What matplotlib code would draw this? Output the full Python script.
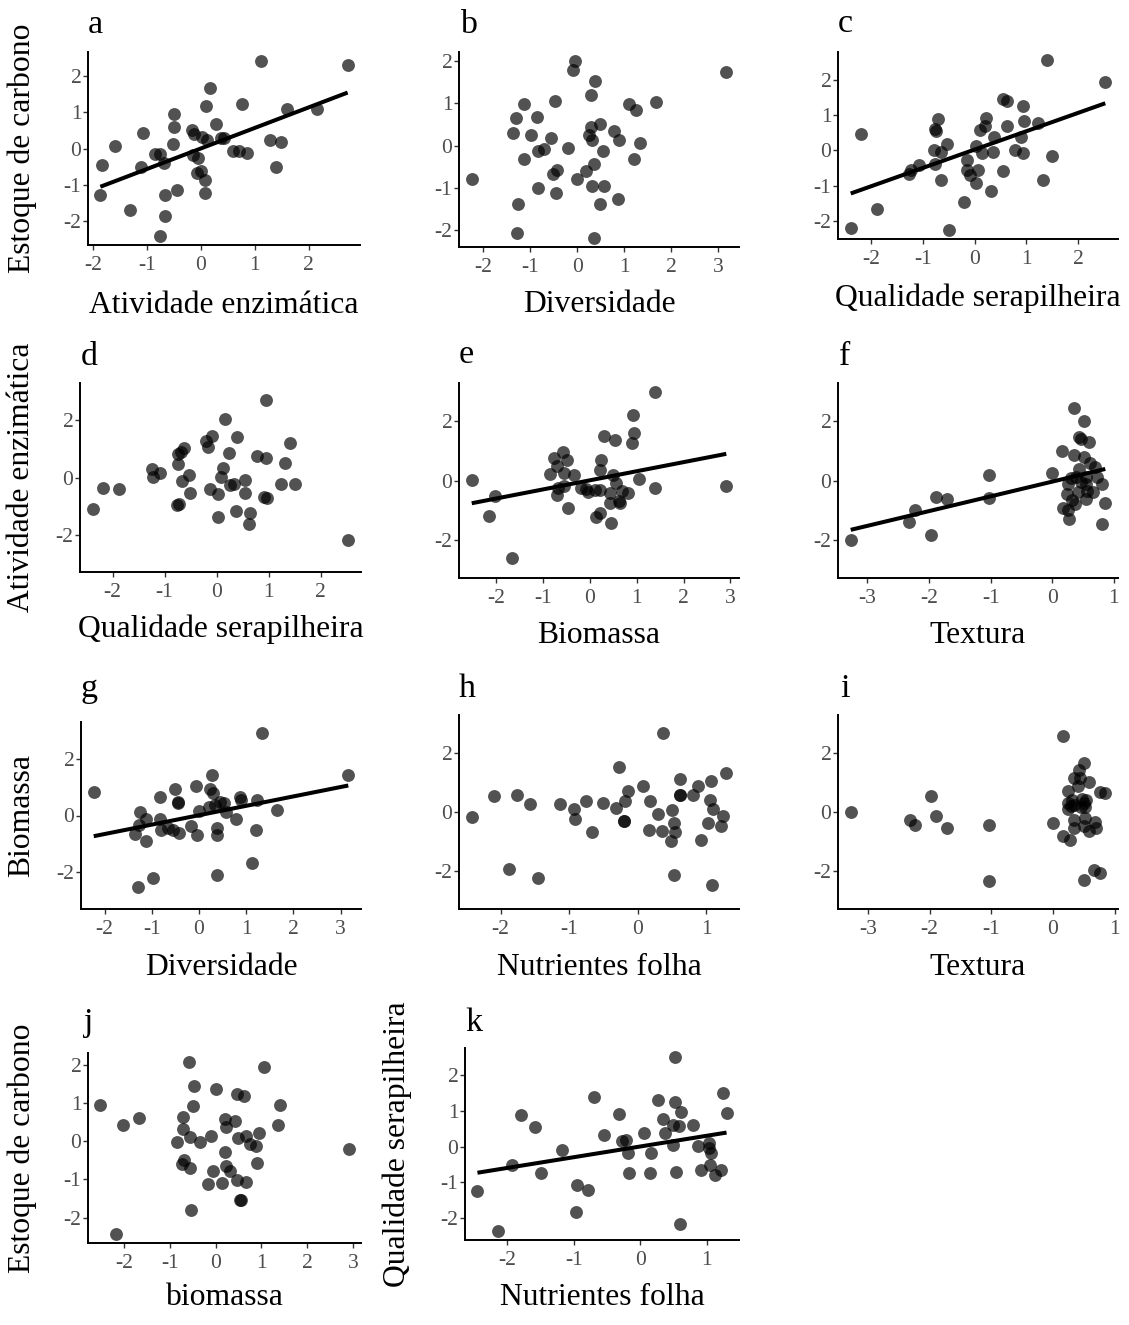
import numpy as np
import matplotlib
matplotlib.use("Agg")
import matplotlib.pyplot as plt
from matplotlib.ticker import MultipleLocator, FuncFormatter
from matplotlib.transforms import blended_transform_factory as btf

plt.rcParams['font.family'] = ['Liberation Serif', 'DejaVu Serif']
plt.rcParams['axes.unicode_minus'] = False

# ---------------- data ----------------
a_x = [-1.83, -1.86, -1.59, -1.31, -1.07, -1.10, -0.84, -0.76, -0.69, -0.67, -0.66, -0.76,
       -0.49, -0.50, -0.51, -0.44, -0.17, -0.13, -0.15, -0.06, 0.02, 0.12, -0.07, 0.00,
       0.07, 0.07, 0.09, 0.17, 0.29, 0.37, 0.43, 0.59, 0.70, 0.86, 0.76, 1.12, 1.28, 1.48,
       1.39, 1.60, 2.15, 2.72]
a_y = [-0.45, -1.29, 0.07, -1.69, 0.42, -0.50, -0.14, -0.14, -0.41, -1.28, -1.86, -2.41,
       0.96, 0.59, 0.12, -1.14, 0.50, 0.39, -0.18, -0.27, 0.32, 0.23, -0.68, -0.63,
       -0.86, -1.23, 1.16, 1.67, 0.66, 0.30, 0.30, -0.06, -0.06, -0.12, 1.22, 2.41, 0.24, 0.18,
       -0.50, 1.08, 1.08, 2.30]
a_fit = (0.565, 0.0)

b_x = [-2.25, -1.38, -1.30, -1.13, -1.13, -1.26, -1.28, -0.99, -0.86, -0.83, -0.72, -0.83,
       -0.57, -0.48, -0.51, -0.43, -0.45, -0.19, -0.09, -0.05, 0.00, 0.19, 0.29, 0.28,
       0.25, 0.32, 0.48, 0.37, 0.35, 0.32, 0.55, 0.57, 0.48, 0.35, 0.78, 0.89, 1.10, 1.24,
       1.21, 1.33, 0.86, 1.68, 3.17]
b_y = [-0.80, 0.29, 0.66, 0.98, -0.32, -1.39, -2.07, 0.25, 0.67, -0.13, -0.07, -1.01,
       0.19, 1.05, -0.68, -0.57, -1.12, -0.06, 1.80, 2.01, -0.78, -0.60, 1.21, 0.44,
       0.26, 0.14, 0.52, 1.54, -0.44, -0.95, -0.13, -0.95, -1.38, -2.19, 0.35, 0.13, 0.98, 0.84,
       -0.32, 0.06, -1.26, 1.04, 1.75]

c_x = [-2.39, -2.20, -1.88, -1.27, -1.22, -1.07, -0.79, -0.76, -0.77, -0.74, -0.71, -0.64,
       -0.64, -0.53, -0.50, -0.20, -0.15, -0.15, -0.08, 0.03, 0.06, 0.03, 0.14, 0.11,
       0.20, 0.22, 0.36, 0.32, 0.38, 0.54, 0.54, 0.63, 0.62, 0.78, 0.90, 0.94, 0.96, 0.94,
       1.22, 1.32, 1.50, 1.40, 2.52]
c_y = [-2.19, 0.47, -1.67, -0.66, -0.56, -0.42, 0.00, -0.38, 0.61, 0.54, 0.89, -0.05,
       -0.83, 0.17, -2.27, -1.46, -0.28, -0.56, -0.70, -0.92, -0.56, 0.11, -0.08, 0.56,
       0.68, 0.92, -0.05, -1.15, 0.38, -0.58, 1.46, 1.38, 0.69, 0.02, 0.38, -0.08, 0.83, 1.25,
       0.77, -0.83, -0.17, 2.54, 1.92]
c_fit = (0.52, 0.02)

d_x = [-2.38, -2.18, -1.87, -1.25, -1.23, -1.09, -0.75, -0.74, -0.69, -0.62, -0.66, -0.53,
       -0.52, -0.77, -0.72, -0.21, -0.16, -0.08, 0.16, -0.13, 0.03, 0.02, 0.08, 0.13,
       0.23, 0.26, 0.34, 0.39, 0.37, 0.55, 0.55, 0.64, 0.63, 0.78, 0.94, 0.91, 0.97, 0.95,
       1.24, 1.32, 1.42, 1.51, 2.53]
d_y = [-1.09, -0.35, -0.39, 0.28, 0.02, 0.14, 0.82, 0.47, 0.90, 1.02, -0.12, 0.08,
       -0.54, -0.97, -0.91, 1.26, 1.08, 1.45, 2.04, -0.41, -0.59, -1.38, 0.02, 0.32,
       0.87, -0.27, -0.23, 1.43, -1.17, -0.09, -0.54, -1.24, -1.64, 0.75, 0.67, -0.68, -0.70, 2.69,
       -0.21, 0.49, 1.20, -0.21, -2.18]

e_x = [-2.52, -2.16, -2.03, -1.67, -0.84, -0.77, -0.70, -0.70, -0.67, -0.57, -0.55, -0.48,
       -0.55, -0.46, -0.34, -0.18, -0.09, -0.04, 0.12, 0.13, 0.21, 0.24, 0.21, 0.21,
       0.30, 0.44, 0.44, 0.46, 0.49, 0.53, 0.55, 0.62, 0.65, 0.69, 0.82, 0.89, 0.94, 0.91,
       1.04, 1.38, 1.40, 2.91]
e_y = [0.02, -1.20, -0.51, -2.62, 0.23, 0.76, 0.50, -0.49, -0.26, 0.95, 0.25, 0.70,
       -0.20, -0.94, 0.19, -0.26, -0.29, -0.40, -0.32, -1.25, -1.11, 0.70, 0.34, -0.32,
       1.50, -0.41, -0.77, -1.43, 0.19, 1.36, -0.09, -0.71, -0.77, -0.37, -0.41, 1.27, 1.61, 2.23,
       0.06, -0.26, 2.99, -0.20]
e_fit = (0.308, 0.006)

f_x = [-3.27, -2.32, -2.23, -1.96, -1.89, -1.70, -1.03, -1.02, 0.00, 0.16, 0.17, 0.26,
       0.27, 0.24, 0.26, 0.31, 0.32, 0.35, 0.35, 0.37, 0.41, 0.43, 0.46, 0.44,
       0.47, 0.51, 0.51, 0.54, 0.54, 0.54, 0.59, 0.62, 0.66, 0.70, 0.73, 0.80, 0.80, 0.86,
       0.57, 0.39]
f_y = [-2.02, -1.40, -1.01, -1.85, -0.56, -0.62, 0.20, -0.58, 0.25, 0.99, -0.92, -0.99,
       -1.29, -0.47, -0.13, 0.09, -0.65, 2.45, 0.88, -0.79, -0.39, 1.48, 1.40, 0.39,
       -0.06, 2.00, 0.79, 0.11, -0.13, -0.62, 1.29, 0.58, -0.39, 0.45, 0.13, -0.11, -1.48, -0.76,
       -0.34, 0.11]
f_fit = (0.499, -0.038)

g_x = [-2.23, -1.24, -1.27, -1.36, -1.29, -1.12, -1.12, -0.98, -0.82, -0.82, -0.80, -0.66,
       -0.50, -0.45, -0.45, -0.43, -0.55, -0.18, -0.07, -0.04, 0.00, 0.28, 0.24, 0.30,
       0.21, 0.33, 0.37, 0.37, 0.37, 0.44, 0.52, 0.57, 0.78, 0.86, 0.88, 1.23, 1.20, 1.12,
       1.34, 1.65, 3.16]
g_y = [0.84, 0.14, -0.33, -0.64, -2.54, -0.13, -0.89, -2.22, 0.66, -0.13, -0.52, -0.44,
       0.92, 0.49, 0.45, -0.62, -0.50, -0.38, 1.04, -0.68, 0.17, 1.42, 0.92, 0.78,
       0.31, 0.37, -0.44, -0.68, -2.11, 0.49, 0.45, 0.14, -0.13, 0.64, 0.55, 0.55, -0.52, -1.66,
       2.90, 0.20, 1.42]
g_fit = (0.332, 0.01)

h_x = [-2.42, -2.10, -1.88, -1.76, -1.57, -1.46, -1.14, -0.93, -0.92, -0.76, -0.67, -0.51,
       -0.31, -0.27, -0.19, -0.20, -0.14, 0.07, 0.16, 0.18, 0.29, 0.35, 0.37, 0.50,
       0.49, 0.53, 0.54, 0.53, 0.61, 0.62, 0.81, 0.88, 0.92, 1.02, 1.05, 1.07, 1.10, 1.08,
       1.24, 1.22, 1.29, 0.62, -0.20]
h_y = [-0.17, 0.55, -1.95, 0.59, 0.28, -2.23, 0.28, 0.11, -0.24, 0.36, -0.68, 0.30,
       0.14, 1.54, 0.36, -0.29, 0.73, 0.89, -0.62, 0.39, -0.06, -0.65, 2.69, 0.06,
       -0.97, -0.37, -0.68, -2.15, 1.12, 0.59, 0.59, 0.89, -0.94, -0.39, 0.42, 1.07, 0.10, -2.48,
       -0.12, -0.48, 1.34, 0.57, -0.31]

i_x = [-3.28, -2.32, -2.24, -1.98, -1.90, -1.72, -1.04, -1.04, 0.00, 0.16, 0.16, 0.27,
       0.25, 0.25, 0.25, 0.31, 0.34, 0.34, 0.34, 0.34, 0.41, 0.42, 0.44, 0.45,
       0.48, 0.50, 0.52, 0.53, 0.52, 0.50, 0.50, 0.59, 0.59, 0.69, 0.70, 0.66, 0.77, 0.77,
       0.85, 0.30, 0.50]
i_y = [0.01, -0.27, -0.44, 0.54, -0.15, -0.53, -0.44, -2.35, -0.36, 2.60, -0.83, -0.94,
       0.72, 0.29, 0.09, 0.40, 0.24, -0.27, -0.55, 1.17, 0.88, 1.42, 1.17, 0.18,
       0.43, 1.66, 0.18, 0.40, -0.21, -0.49, -2.31, 1.03, -0.66, -0.33, -0.55, -1.96, -2.07, 0.69,
       0.65, 0.20, 0.30]

j_x = [-2.51, -2.01, -1.67, -2.17, -0.83, -0.70, -0.70, -0.74, -0.68, -0.58, -0.47, -0.49,
       -0.56, -0.56, -0.54, -0.34, -0.09, -0.05, -0.16, 0.00, 0.14, 0.20, 0.22, 0.20,
       0.23, 0.31, 0.43, 0.46, 0.49, 0.46, 0.54, 0.62, 0.67, 0.67, 0.76, 0.89, 0.94, 0.91,
       1.05, 1.36, 1.40, 2.90, 0.55]
j_y = [0.94, 0.44, 0.62, -2.44, -0.03, 0.65, 0.33, -0.60, -0.49, 2.09, 1.45, 0.92,
       0.11, -0.69, -1.79, -0.03, 0.15, -0.79, -1.13, 1.36, -1.09, 0.59, 0.37, -0.29,
       -0.66, -0.78, 0.53, 1.23, 0.09, -1.02, -1.55, 1.18, 0.15, -1.06, -0.07, -0.11, 0.21, -0.56,
       1.94, 0.42, 0.94, -0.20, -1.53]

k_x = [-2.45, -2.14, -1.93, -1.80, -1.58, -1.50, -1.17, -0.95, -0.96, -0.79, -0.69, -0.54,
       -0.32, -0.27, -0.22, -0.19, -0.17, 0.06, 0.17, 0.15, 0.27, 0.34, 0.38, 0.49,
       0.49, 0.53, 0.53, 0.54, 0.59, 0.62, 0.60, 0.80, 0.87, 0.92, 1.03, 1.04, 1.07, 1.05,
       1.12, 1.22, 1.25, 1.30]
k_y = [-1.24, -2.37, -0.50, 0.89, 0.55, -0.73, -0.09, -1.08, -1.83, -1.22, 1.39, 0.32,
       0.92, 0.17, 0.20, -0.17, -0.73, 0.39, -0.18, -0.73, 1.30, 0.78, 0.37, 0.62,
       0.05, 1.24, 2.52, -0.72, 0.57, 0.96, -2.18, 0.62, 0.03, -0.64, 0.11, -0.03, -0.17, -0.50,
       -0.78, -0.64, 1.49, 0.94]
k_fit = (0.30, 0.005)

# ---------------- layout ----------------
W, H = 1129, 1325
fig = plt.figure(figsize=(W / 100, H / 100), dpi=100)

# letter, x, y, fit, xlabel, ylabel, fixed ylim?, y tick step,
# box (left, right, top, bottom px), letter pos (x, baseline), xlabel baseline, ylabel x
panels = [
    ("a", a_x, a_y, a_fit, "Atividade enzimática", "Estoque de carbono", False, 1,
     (88, 360, 52, 245), (88, 33), 313, 22),
    ("b", b_x, b_y, None, "Diversidade", None, False, 1,
     (459, 739, 52, 247), (460, 33), 312, None),
    ("c", c_x, c_y, c_fit, "Qualidade serapilheira", None, False, 1,
     (838, 1118, 52, 239), (838, 32), 306, None),
    ("d", d_x, d_y, None, "Qualidade serapilheira", "Atividade enzimática", True, 2,
     (80, 361, 383, 572), (81, 365), 637, 22),
    ("e", e_x, e_y, e_fit, "Biomassa", None, True, 2,
     (459, 739, 383, 578), (459, 363), 643, None),
    ("f", f_x, f_y, f_fit, "Textura", None, True, 2,
     (838, 1118, 383, 578), (839, 365), 643, None),
    ("g", g_x, g_y, g_fit, "Diversidade", "Biomassa", True, 2,
     (81, 361, 722, 909), (81, 697), 975, 22),
    ("h", h_x, h_y, None, "Nutrientes folha", None, True, 2,
     (459, 739, 715, 909), (459, 697), 975, None),
    ("i", i_x, i_y, None, "Textura", None, True, 2,
     (838, 1118, 715, 909), (840, 697), 975, None),
    ("j", j_x, j_y, None, "biomassa", "Estoque de carbono", False, 1,
     (88, 361, 1053, 1243), (84, 1031), 1305, 22),
    ("k", k_x, k_y, k_fit, "Nutrientes folha", "Qualidade serapilheira", False, 1,
     (465, 739, 1048, 1240), (465, 1031), 1305, 397),
]

int_fmt = FuncFormatter(lambda v, p: f"{int(round(v))}")

for (let, xs, ys, fit, xl, yl, fixed, ystep, box, lpos, xlb, ylx) in panels:
    l, r, t, b = box
    ax = fig.add_axes([l / W, 1 - b / H, (r - l) / W, (b - t) / H])
    xs = np.asarray(xs)
    ys = np.asarray(ys)
    ax.scatter(xs, ys, s=86, color="black", alpha=0.68, linewidths=0, zorder=2)
    if fit is not None:
        xx = np.array([xs.min(), xs.max()])
        ax.plot(xx, fit[0] * xx + fit[1], color="black", lw=2.9,
                solid_capstyle="butt", zorder=3)
    ax.margins(x=0.05, y=0.05)
    if fixed:
        ax.set_ylim(-3.3, 3.3)
    ax.xaxis.set_major_locator(MultipleLocator(1))
    ax.yaxis.set_major_locator(MultipleLocator(ystep))
    ax.xaxis.set_major_formatter(int_fmt)
    ax.yaxis.set_major_formatter(int_fmt)
    for s in ("top", "right"):
        ax.spines[s].set_visible(False)
    for s in ("left", "bottom"):
        ax.spines[s].set_linewidth(1.4)
        ax.spines[s].set_color("black")
    ax.tick_params(direction="out", length=3.6, width=1.0, color="#333333",
                   labelsize=15.5, labelcolor="#4d4d4d")
    ax.tick_params(axis="x", pad=4.5)
    ax.tick_params(axis="y", pad=1.2)
    ax.set_facecolor("none")

    ax.set_xlabel(xl, fontsize=22.8, va="baseline")
    ax.xaxis.set_label_coords(0.5, 1 - xlb / H, transform=btf(ax.transAxes, fig.transFigure))
    if yl is not None:
        ax.set_ylabel(yl, fontsize=22.8, va="center", ha="center")
        ax.yaxis.set_label_coords(ylx / W, 0.5, transform=btf(fig.transFigure, ax.transAxes))
    fig.text(lpos[0] / W, 1 - lpos[1] / H, let, fontsize=24.5, ha="left", va="baseline")

fig.savefig("out.png", dpi=100)
